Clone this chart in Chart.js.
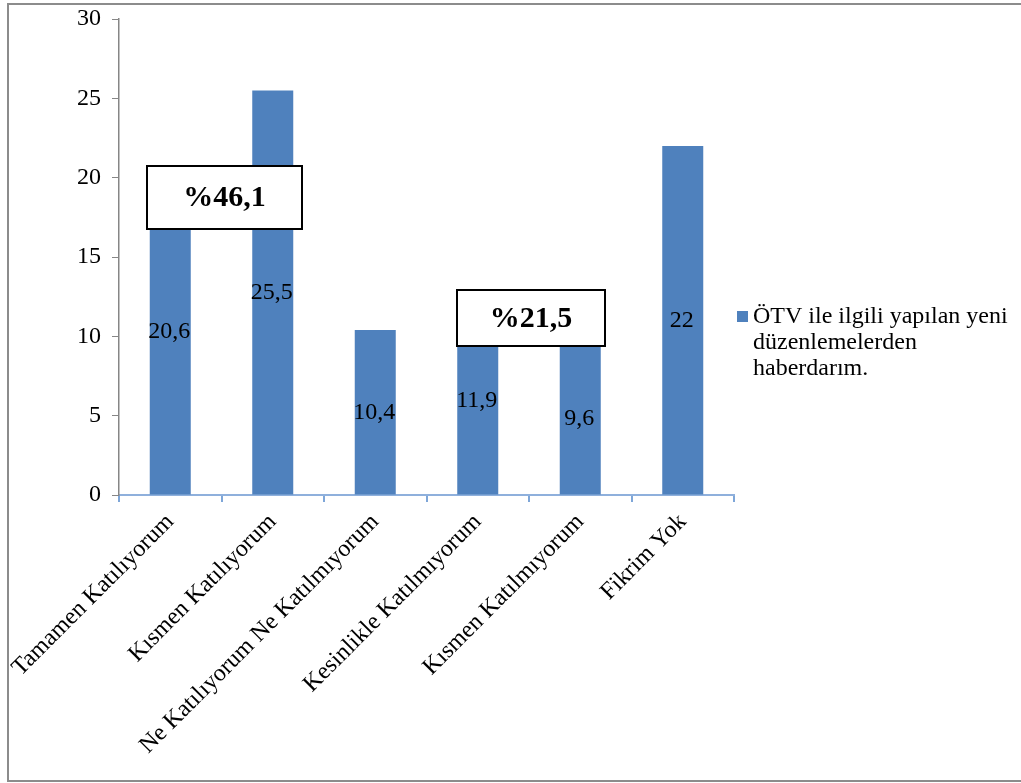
<!DOCTYPE html>
<html>
<head>
<meta charset="utf-8">
<script src="https://cdn.jsdelivr.net/npm/chart.js@4/dist/chart.umd.min.js"></script>
<style>
  html, body { margin: 0; padding: 0; background: #fff; }
  canvas { display: block; }
</style>
</head>
<body>
<canvas id="otvChart" width="1021" height="783"></canvas>
<script>
/**************************************************
 * DATA
 **************************************************/
const categories = [
  "Tamamen Katılıyorum",
  "Kısmen Katılıyorum",
  "Ne Katılıyorum Ne Katılmıyorum",
  "Kesinlikle Katılmıyorum",
  "Kısmen Katılmıyorum",
  "Fikrim Yok"
];
const values = [20.6, 25.5, 10.4, 11.9, 9.6, 22];
const seriesLabel = "ÖTV ile ilgili yapılan yeni düzenlemelerden haberdarım.";
const legendLines = ["ÖTV ile ilgili yapılan yeni", "düzenlemelerden", "haberdarım."];
const yTicks = [0, 5, 10, 15, 20, 25, 30];

// categories summed into the two highlighted totals
const agreeGroup = [0, 1];
const disagreeGroup = [3, 4];

const SERIF = '"Liberation Serif", "Times New Roman", serif';
const BAR_COLOR = "#4f81bd";

function fmt(v) {
  const r = Math.round(v * 10) / 10;
  return Number.isInteger(r) ? String(r) : r.toFixed(1).replace(".", ",");
}

function groupTotal(idx) {
  return idx.reduce((s, i) => s + values[i], 0);
}

/**************************************************
 * PLUGINS
 **************************************************/
const framePlugin = {
  id: "frame",
  beforeDraw(chart) {
    const ctx = chart.ctx;
    ctx.save();
    ctx.fillStyle = "#fff";
    ctx.fillRect(0, 0, chart.width, chart.height);
    ctx.strokeStyle = "#8c8c8c";
    ctx.lineWidth = 2;
    ctx.strokeRect(8, 4, chart.width + 10, 777);
    ctx.restore();
  }
};

const valueLabels = {
  id: "valueLabels",
  afterDatasetsDraw(chart) {
    const ctx = chart.ctx;
    const meta = chart.getDatasetMeta(0);
    ctx.save();
    ctx.font = "24px " + SERIF;
    ctx.fillStyle = "#000";
    ctx.textAlign = "center";
    ctx.textBaseline = "middle";
    meta.data.forEach((bar, i) => {
      ctx.fillText(fmt(values[i]), bar.x - 1, (bar.y + bar.base) / 2);
    });
    ctx.restore();
  }
};

const totalBoxes = {
  id: "totalBoxes",
  afterDraw(chart, args, opts) {
    const ctx = chart.ctx;
    const xs = chart.scales.x;
    const ys = chart.scales.y;
    ctx.save();
    opts.boxes.forEach(b => {
      const cx = b.group.reduce((s, i) => s + xs.getPixelForValue(i), 0) / b.group.length + b.dx;
      const cy = ys.getPixelForValue(b.yValue);
      const left = Math.round(cx - b.w / 2);
      const top = Math.round(cy - b.h / 2);
      ctx.fillStyle = "#fff";
      ctx.fillRect(left, top, b.w, b.h);
      ctx.strokeStyle = "#000";
      ctx.lineWidth = 2;
      ctx.strokeRect(left, top, b.w, b.h);
      ctx.fillStyle = "#000";
      ctx.font = "bold 30px " + SERIF;
      ctx.textAlign = "center";
      ctx.textBaseline = "middle";
      ctx.fillText("%" + fmt(groupTotal(b.group)), cx, cy + 1);
    });
    ctx.restore();
  }
};

const sideLegend = {
  id: "sideLegend",
  afterDraw(chart) {
    const ctx = chart.ctx;
    const x = chart.chartArea.right + 3;
    const y = 311;
    ctx.save();
    ctx.fillStyle = BAR_COLOR;
    ctx.fillRect(x, y, 11, 11);
    ctx.fillStyle = "#000";
    ctx.font = "24px " + SERIF;
    ctx.textAlign = "left";
    ctx.textBaseline = "middle";
    legendLines.forEach((line, i) => {
      ctx.fillText(line, x + 16, y + 6 + i * 26);
    });
    ctx.restore();
  }
};

/**************************************************
 * CHART
 **************************************************/
function drawChart() {
  const ctx = document.getElementById("otvChart").getContext("2d");

  new Chart(ctx, {
    type: "bar",
    data: {
      labels: categories,
      datasets: [
        {
          label: seriesLabel,
          data: values,
          backgroundColor: BAR_COLOR,
          barPercentage: 0.4,
          categoryPercentage: 1
        }
      ]
    },
    options: {
      responsive: false,
      animation: false,
      layout: {
        padding: { left: 1, top: 19, right: 287, bottom: 0 }
      },
      plugins: {
        legend: { display: false },
        tooltip: { enabled: false },
        totalBoxes: {
          boxes: [
            { group: agreeGroup, yValue: 18.75, w: 155, h: 63, dx: 3 },
            { group: disagreeGroup, yValue: 11.15, w: 148, h: 56, dx: 2 }
          ]
        }
      },
      scales: {
        x: {
          afterFit(scale) {
            scale.height = 288;
            scale.paddingLeft = 0;
            scale.paddingRight = 0;
          },
          grid: {
            offset: true,
            drawOnChartArea: false,
            tickLength: 7,
            color: "#7ea6d8",
            lineWidth: 2
          },
          border: { color: "#8fb0dc", width: 2 },
          ticks: {
            autoSkip: false,
            maxRotation: 45,
            minRotation: 45,
            padding: 6,
            color: "#000",
            font: { family: SERIF, size: 24 }
          }
        },
        y: {
          min: yTicks[0],
          max: yTicks[yTicks.length - 1],
          afterFit(scale) {
            scale.width = 118;
            scale.paddingTop = 0;
            scale.paddingBottom = 0;
          },
          afterBuildTicks(scale) {
            scale.ticks = yTicks.map(v => ({ value: v }));
          },
          grid: {
            drawOnChartArea: false,
            tickLength: 7,
            color: "#868686"
          },
          border: { color: "#868686", width: 1.5 },
          ticks: {
            padding: 11,
            color: "#000",
            font: { family: SERIF, size: 24 }
          }
        }
      }
    },
    plugins: [framePlugin, valueLabels, totalBoxes, sideLegend]
  });
}

document.addEventListener("DOMContentLoaded", drawChart);
</script>
</body>
</html>
